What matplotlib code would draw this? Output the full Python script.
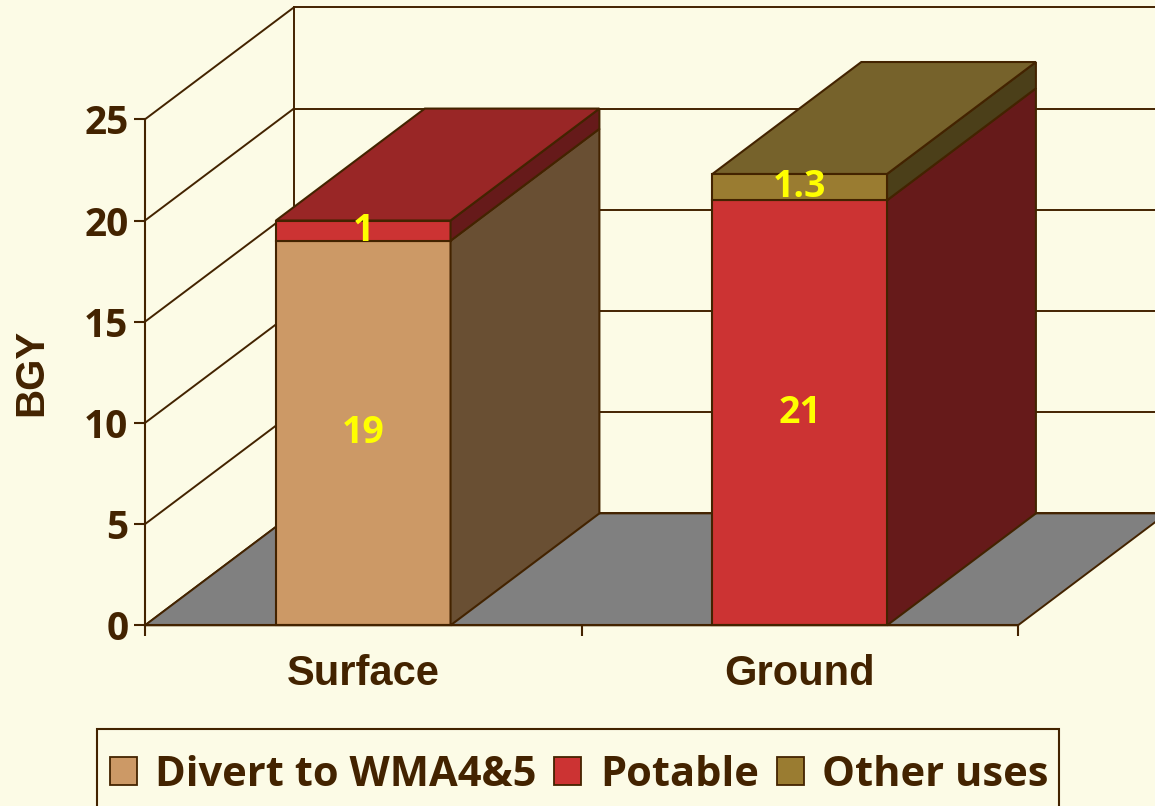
import matplotlib
matplotlib.use('Agg')
import matplotlib.pyplot as plt
from matplotlib.patches import Polygon, Rectangle, Patch

# ---------------- data ----------------
categories = ['Surface', 'Ground']
series_names = ['Divert to WMA4&5', 'Potable', 'Other uses']
divert = [19, 0]
potable = [1, 21]
other = [0, 1.3]
y_ticks = [0, 5, 10, 15, 20, 25]

# ---------------- style ----------------
BG = '#FCFBE6'
INK = '#432300'
front_cols = ['#CC9966', '#CC3333', '#9A7C31']
side_cols = ['#694F33', '#661A1A', '#4B3F19']
top_cols = ['#99734D', '#992626', '#76622B']
FLOOR = '#808080'
LABEL_COL = '#FFFF00'
COMIC = 'Open Sans'

W, H = 1155, 806
DX = 0.341      # depth offset in category units
DY = 5.53       # depth offset in value units
BAR_W = 0.4
LW = 1.5

fig = plt.figure(figsize=(W / 100, H / 100), dpi=100, facecolor=BG)
ax = fig.add_axes([145 / W, (H - 625.3) / H, (1018 - 145) / W, (625.3 - 119.3) / H])
ax.set_facecolor('none')
ax.set_xlim(0, len(categories))
ax.set_ylim(0, 25)

# walls: side-wall diagonals and back-wall gridlines
xmax = len(categories)
for v in y_ticks:
    ax.plot([0, DX], [v, v + DY], color=INK, lw=1.4, clip_on=False, zorder=1)
    ax.plot([DX, xmax + DX], [v + DY, v + DY], color=INK, lw=1.4, clip_on=False, zorder=1)
ax.plot([DX, DX], [DY, y_ticks[-1] + DY], color=INK, lw=1.4, clip_on=False, zorder=1)

# floor
floor = Polygon([(0, 0), (xmax, 0), (xmax + DX, DY), (DX, DY)], closed=True,
                facecolor=FLOOR, edgecolor=INK, lw=1.4, clip_on=False, zorder=2)
ax.add_patch(floor)

# bars
series = [divert, potable, other]
for i, cat in enumerate(categories):
    x0 = i + 0.5 - BAR_W / 2
    x1 = x0 + BAR_W
    base = 0.0
    segs = [(k, series[k][i]) for k in range(len(series)) if series[k][i] > 0]
    for j, (k, val) in enumerate(segs):
        y0, y1 = base, base + val
        ax.add_patch(Rectangle((x0, y0), BAR_W, val, facecolor=front_cols[k],
                               edgecolor=INK, lw=LW, clip_on=False, zorder=3))
        ax.add_patch(Polygon([(x1, y0), (x1 + DX, y0 + DY), (x1 + DX, y1 + DY), (x1, y1)],
                             closed=True, facecolor=side_cols[k], edgecolor=INK,
                             lw=LW, clip_on=False, zorder=3))
        if j == len(segs) - 1:
            ax.add_patch(Polygon([(x0, y1), (x1, y1), (x1 + DX, y1 + DY), (x0 + DX, y1 + DY)],
                                 closed=True, facecolor=top_cols[k], edgecolor=INK,
                                 lw=LW, clip_on=False, zorder=3))
        ax.text(i + 0.5, (y0 + y1) / 2, f'{val:g}', ha='center', va='center',
                color=LABEL_COL, fontsize=27, fontweight='bold', family=COMIC,
                zorder=6, clip_on=False)
        base = y1

# axes
for s in ['top', 'right']:
    ax.spines[s].set_visible(False)
for s in ['left', 'bottom']:
    ax.spines[s].set_color(INK)
    ax.spines[s].set_linewidth(LW)
    ax.spines[s].set_zorder(5)

ax.set_yticks(y_ticks)
ax.set_yticklabels([str(t) for t in y_ticks], fontsize=28, fontweight='bold',
                   family=COMIC, color=INK)
ax.tick_params(axis='y', direction='out', length=8, width=LW, color=INK, pad=4)
ax.set_xticks(range(len(categories) + 1))
ax.set_xticklabels([])
ax.set_xticks([i + 0.5 for i in range(len(categories))], categories, minor=True)
ax.tick_params(axis='x', which='major', direction='out', length=8, width=LW, color=INK)
ax.tick_params(axis='x', which='minor', length=0, pad=21, labelsize=30, labelcolor=INK)
for lab in ax.get_xticklabels(minor=True):
    lab.set_fontweight('bold')
    lab.set_family('Liberation Sans')

ax.set_ylabel('BGY', fontsize=29, fontweight='bold', family='Liberation Sans', color=INK)
ax.yaxis.set_label_coords(-(145 - 50) / 873, 0.5)

# legend (frame drawn separately; it runs past the bottom edge of the figure)
fig.add_artist(Rectangle((97 / W, 1 - 840 / H), (1059 - 97) / W, (840 - 729) / H,
                         transform=fig.transFigure, facecolor=BG, edgecolor=INK,
                         lw=1.5, zorder=0))
handles = [Patch(facecolor=front_cols[k], edgecolor=INK, lw=1.3) for k in range(3)]
leg = fig.legend(handles, series_names, loc='center left',
                 bbox_to_anchor=(97 / W, 1 - 775 / H), bbox_transform=fig.transFigure,
                 ncol=3, frameon=False, borderaxespad=0,
                 prop={'family': COMIC, 'weight': 'bold', 'size': 30},
                 handlelength=0.65, handleheight=0.65, handletextpad=0.45,
                 columnspacing=0.42, borderpad=0.3)
for t in leg.get_texts():
    t.set_color(INK)

fig.savefig('out.png', dpi=100, facecolor=BG)
